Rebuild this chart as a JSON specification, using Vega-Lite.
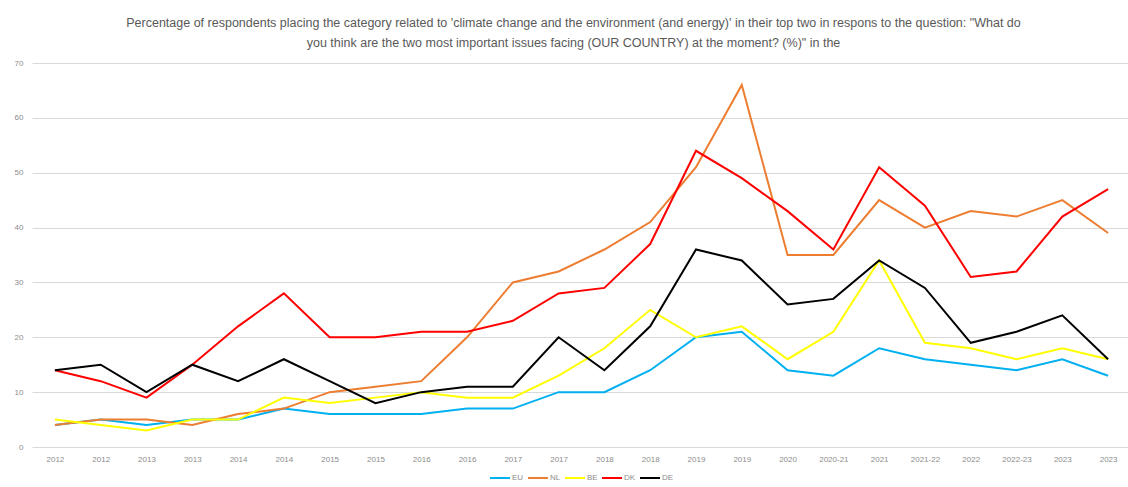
{
  "$schema": "https://vega.github.io/schema/vega-lite/v6.json",
  "autosize": {"type": "none"},
  "width": 1099,
  "height": 384,
  "padding": {"left": 32, "top": 63, "right": 0, "bottom": 40},
  "background": "white",
  "title": {
    "text": ["Percentage of respondents  placing the category related to 'climate change and the environment (and energy)' in their top two in respons to the question: \"What do", "you think are the two most important issues facing (OUR COUNTRY) at the moment? (%)\" in the"],
    "anchor": "middle",
    "frame": "group",
    "offset": 10,
    "font": "Liberation Sans",
    "fontSize": 12.5,
    "fontWeight": "normal",
    "color": "#595959",
    "lineHeight": 20,
    "dx": -8
  },
  "datasets": {
    "main": [
      {"i":0,"country":"EU","value":4},{"i":1,"country":"EU","value":5},{"i":2,"country":"EU","value":4},{"i":3,"country":"EU","value":5},{"i":4,"country":"EU","value":5},{"i":5,"country":"EU","value":7},{"i":6,"country":"EU","value":6},{"i":7,"country":"EU","value":6},{"i":8,"country":"EU","value":6},{"i":9,"country":"EU","value":7},{"i":10,"country":"EU","value":7},{"i":11,"country":"EU","value":10},{"i":12,"country":"EU","value":10},{"i":13,"country":"EU","value":14},{"i":14,"country":"EU","value":20},{"i":15,"country":"EU","value":21},{"i":16,"country":"EU","value":14},{"i":17,"country":"EU","value":13},{"i":18,"country":"EU","value":18},{"i":19,"country":"EU","value":16},{"i":20,"country":"EU","value":15},{"i":21,"country":"EU","value":14},{"i":22,"country":"EU","value":16},{"i":23,"country":"EU","value":13},
      {"i":0,"country":"NL","value":4},{"i":1,"country":"NL","value":5},{"i":2,"country":"NL","value":5},{"i":3,"country":"NL","value":4},{"i":4,"country":"NL","value":6},{"i":5,"country":"NL","value":7},{"i":6,"country":"NL","value":10},{"i":7,"country":"NL","value":11},{"i":8,"country":"NL","value":12},{"i":9,"country":"NL","value":20},{"i":10,"country":"NL","value":30},{"i":11,"country":"NL","value":32},{"i":12,"country":"NL","value":36},{"i":13,"country":"NL","value":41},{"i":14,"country":"NL","value":51},{"i":15,"country":"NL","value":66},{"i":16,"country":"NL","value":35},{"i":17,"country":"NL","value":35},{"i":18,"country":"NL","value":45},{"i":19,"country":"NL","value":40},{"i":20,"country":"NL","value":43},{"i":21,"country":"NL","value":42},{"i":22,"country":"NL","value":45},{"i":23,"country":"NL","value":39},
      {"i":0,"country":"BE","value":5},{"i":1,"country":"BE","value":4},{"i":2,"country":"BE","value":3},{"i":3,"country":"BE","value":5},{"i":4,"country":"BE","value":5},{"i":5,"country":"BE","value":9},{"i":6,"country":"BE","value":8},{"i":7,"country":"BE","value":9},{"i":8,"country":"BE","value":10},{"i":9,"country":"BE","value":9},{"i":10,"country":"BE","value":9},{"i":11,"country":"BE","value":13},{"i":12,"country":"BE","value":18},{"i":13,"country":"BE","value":25},{"i":14,"country":"BE","value":20},{"i":15,"country":"BE","value":22},{"i":16,"country":"BE","value":16},{"i":17,"country":"BE","value":21},{"i":18,"country":"BE","value":34},{"i":19,"country":"BE","value":19},{"i":20,"country":"BE","value":18},{"i":21,"country":"BE","value":16},{"i":22,"country":"BE","value":18},{"i":23,"country":"BE","value":16},
      {"i":0,"country":"DK","value":14},{"i":1,"country":"DK","value":12},{"i":2,"country":"DK","value":9},{"i":3,"country":"DK","value":15},{"i":4,"country":"DK","value":22},{"i":5,"country":"DK","value":28},{"i":6,"country":"DK","value":20},{"i":7,"country":"DK","value":20},{"i":8,"country":"DK","value":21},{"i":9,"country":"DK","value":21},{"i":10,"country":"DK","value":23},{"i":11,"country":"DK","value":28},{"i":12,"country":"DK","value":29},{"i":13,"country":"DK","value":37},{"i":14,"country":"DK","value":54},{"i":15,"country":"DK","value":49},{"i":16,"country":"DK","value":43},{"i":17,"country":"DK","value":36},{"i":18,"country":"DK","value":51},{"i":19,"country":"DK","value":44},{"i":20,"country":"DK","value":31},{"i":21,"country":"DK","value":32},{"i":22,"country":"DK","value":42},{"i":23,"country":"DK","value":47},
      {"i":0,"country":"DE","value":14},{"i":1,"country":"DE","value":15},{"i":2,"country":"DE","value":10},{"i":3,"country":"DE","value":15},{"i":4,"country":"DE","value":12},{"i":5,"country":"DE","value":16},{"i":6,"country":"DE","value":12},{"i":7,"country":"DE","value":8},{"i":8,"country":"DE","value":10},{"i":9,"country":"DE","value":11},{"i":10,"country":"DE","value":11},{"i":11,"country":"DE","value":20},{"i":12,"country":"DE","value":14},{"i":13,"country":"DE","value":22},{"i":14,"country":"DE","value":36},{"i":15,"country":"DE","value":34},{"i":16,"country":"DE","value":26},{"i":17,"country":"DE","value":27},{"i":18,"country":"DE","value":34},{"i":19,"country":"DE","value":29},{"i":20,"country":"DE","value":19},{"i":21,"country":"DE","value":21},{"i":22,"country":"DE","value":24},{"i":23,"country":"DE","value":16}
    ]
  },
  "data": {"name": "main"},
  "mark": {"type": "line", "strokeWidth": 2, "strokeJoin": "miter"},
  "encoding": {
    "x": {
      "field": "i",
      "type": "ordinal",
      "title": null,
      "scale": {"type": "point", "padding": 0.5},
      "axis": {
        "labelAngle": 0,
        "labelExpr": "['2012','2012','2013','2013','2014','2014','2015','2015','2016','2016','2017','2017','2018','2018','2019','2019','2020','2020-21','2021','2021-22','2022','2022-23','2023','2023'][datum.value]",
        "domain": false,
        "ticks": false,
        "grid": false,
        "labelFont": "Liberation Sans",
        "labelFontSize": 8,
        "labelColor": "#8c8c8c",
        "labelPadding": 8
      }
    },
    "y": {
      "field": "value",
      "type": "quantitative",
      "title": null,
      "scale": {"domain": [0, 70], "nice": false},
      "axis": {
        "values": [0, 10, 20, 30, 40, 50, 60, 70],
        "domain": false,
        "ticks": false,
        "grid": true,
        "gridColor": "#d9d9d9",
        "gridWidth": 1,
        "labelFont": "Liberation Sans",
        "labelFontSize": 8,
        "labelColor": "#8c8c8c",
        "labelPadding": 9
      }
    },
    "color": {
      "field": "country",
      "type": "nominal",
      "scale": {"domain": ["EU", "NL", "BE", "DK", "DE"], "range": ["#00b0f0", "#ed7d31", "#ffff00", "#ff0000", "#000000"]},
      "legend": {
        "title": null,
        "orient": "bottom",
        "direction": "horizontal",
        "symbolType": "stroke",
        "symbolSize": 400,
        "symbolStrokeWidth": 2,
        "labelFont": "Liberation Sans",
        "labelFontSize": 8,
        "labelColor": "#8c8c8c",
        "labelOffset": 1,
        "columnPadding": 0,
        "offset": 4
      }
    },
    "order": {"field": "i", "type": "quantitative"}
  },
  "config": {
    "view": {"stroke": null},
    "legend": {"layout": {"bottom": {"anchor": "middle"}}}
  }
}
